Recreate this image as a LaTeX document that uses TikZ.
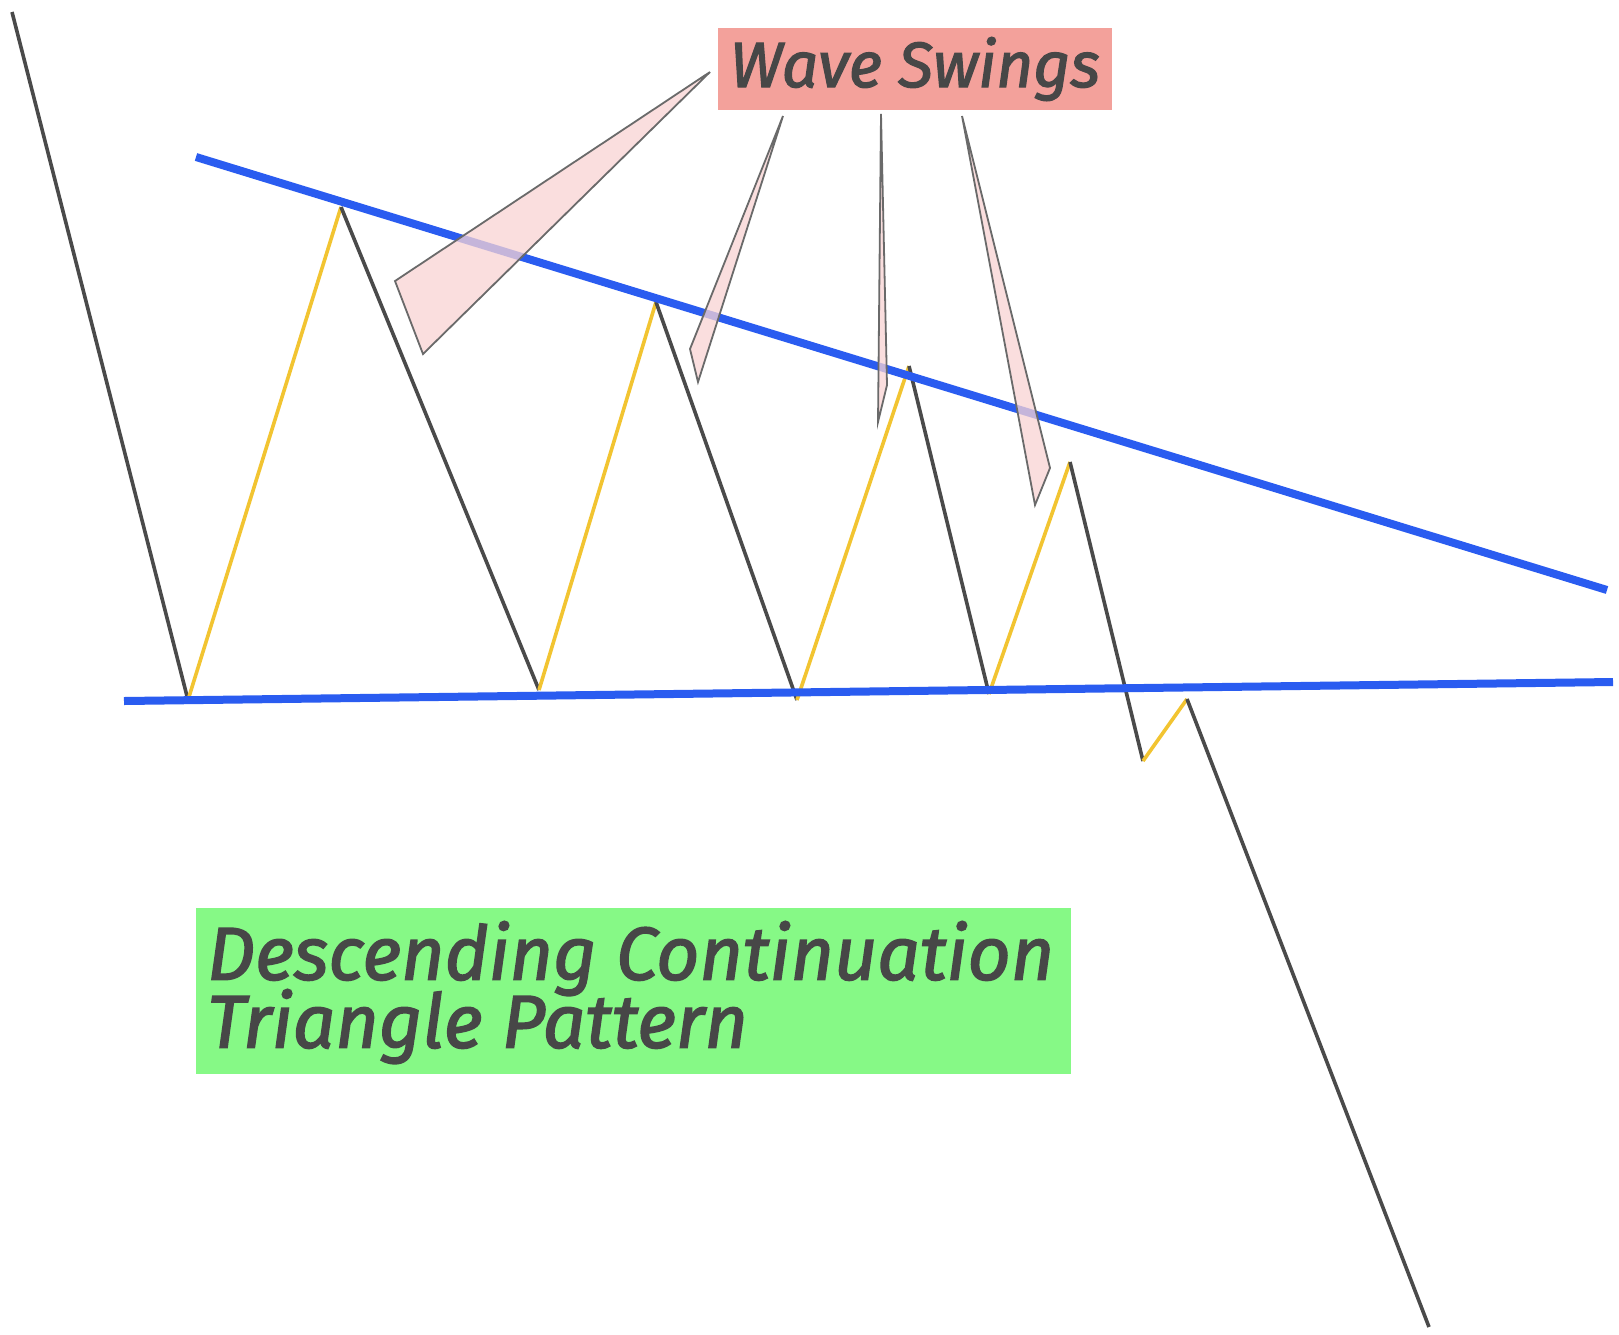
\documentclass[tikz,border=0pt]{standalone}
\usepackage{fontspec}
\setmainfont{Fira Sans}[ItalicFeatures={FakeBold=2}]
\definecolor{trendblue}{HTML}{2A5CF0}
\definecolor{pricegray}{HTML}{4A4A4A}
\definecolor{upyellow}{HTML}{F2C431}
\definecolor{calloutfill}{HTML}{F9D3D3}
\definecolor{calloutdraw}{HTML}{6A6A6A}
\definecolor{wavebox}{HTML}{F3A19B}
\definecolor{greenbox}{HTML}{86F986}
\definecolor{labeltext}{HTML}{474747}
\begin{document}
\begin{tikzpicture}[x=1pt,y=-1pt,
  trend/.style={draw=trendblue,line width=8pt},
  downleg/.style={draw=pricegray,line width=3.6pt},
  upleg/.style={draw=upyellow,line width=3.6pt},
  callout/.style={fill=calloutfill,fill opacity=0.75,draw=calloutdraw,line width=1.8pt,line join=miter},
  labelbox/.style={inner sep=0pt,text=labeltext,font=\itshape}]
\useasboundingbox[fill=white] (0,0) rectangle (1619,1334);
% price points
\coordinate (p0) at (12,12);
\coordinate (p1) at (188,700);
\coordinate (p2) at (341,207);
\coordinate (p3) at (539,690);
\coordinate (p4) at (656,302);
\coordinate (p5) at (797,700);
\coordinate (p6) at (909,366);
\coordinate (p7) at (989,694);
\coordinate (p8) at (1070,462);
\coordinate (p9) at (1143,761);
\coordinate (p10) at (1187,699);
\coordinate (p11) at (1429,1327);
% trend line ends
\coordinate (ua) at (196,157);
\coordinate (ub) at (1607,590);
\coordinate (la) at (124,701);
\coordinate (lb) at (1613,682);
% price legs
\draw[downleg] (p0) -- (p1);
\draw[upleg] (p1) -- (p2);
\draw[downleg] (p2) -- (p3);
\draw[upleg] (p3) -- (p4);
\draw[downleg] (p4) -- (p5);
\draw[upleg] (p5) -- (p6);
\draw[downleg] (p6) -- (p7);
\draw[upleg] (p7) -- (p8);
\draw[downleg] (p8) -- (p9);
\draw[upleg] (p9) -- (p10);
\draw[downleg] (p10) -- (p11);
% trend lines
\draw[trend] (ua) -- (ub);
\draw[trend] (la) -- (lb);
% label boxes
\node[labelbox,fill=wavebox,minimum width=394pt,minimum height=82pt,font=\itshape\fontsize{64}{66}\selectfont] (wave) at (915,69) {Wave Swings};
\node[fill=greenbox,minimum width=875pt,minimum height=166pt,inner sep=0pt] (green) at (633.5,991) {};
\node[labelbox,anchor=north west,align=left,font=\itshape\fontsize{75}{75}\selectfont] (title) at (207,921) {Descending Continuation\\[-7pt]Triangle Pattern};
% callouts
\coordinate (c1t) at (710,72);
\coordinate (c2t) at (783,116);
\coordinate (c3t) at (881,114);
\coordinate (c4t) at (962,116);
\draw[callout] (c1t) -- (395,281) -- (423,354) -- cycle;
\draw[callout] (c2t) -- (690,349) -- (698,382) -- cycle;
\draw[callout] (c3t) -- (878,422) -- (887,385) -- cycle;
\draw[callout] (c4t) -- (1035,505) -- (1050,468) -- cycle;
\end{tikzpicture}
\end{document}
